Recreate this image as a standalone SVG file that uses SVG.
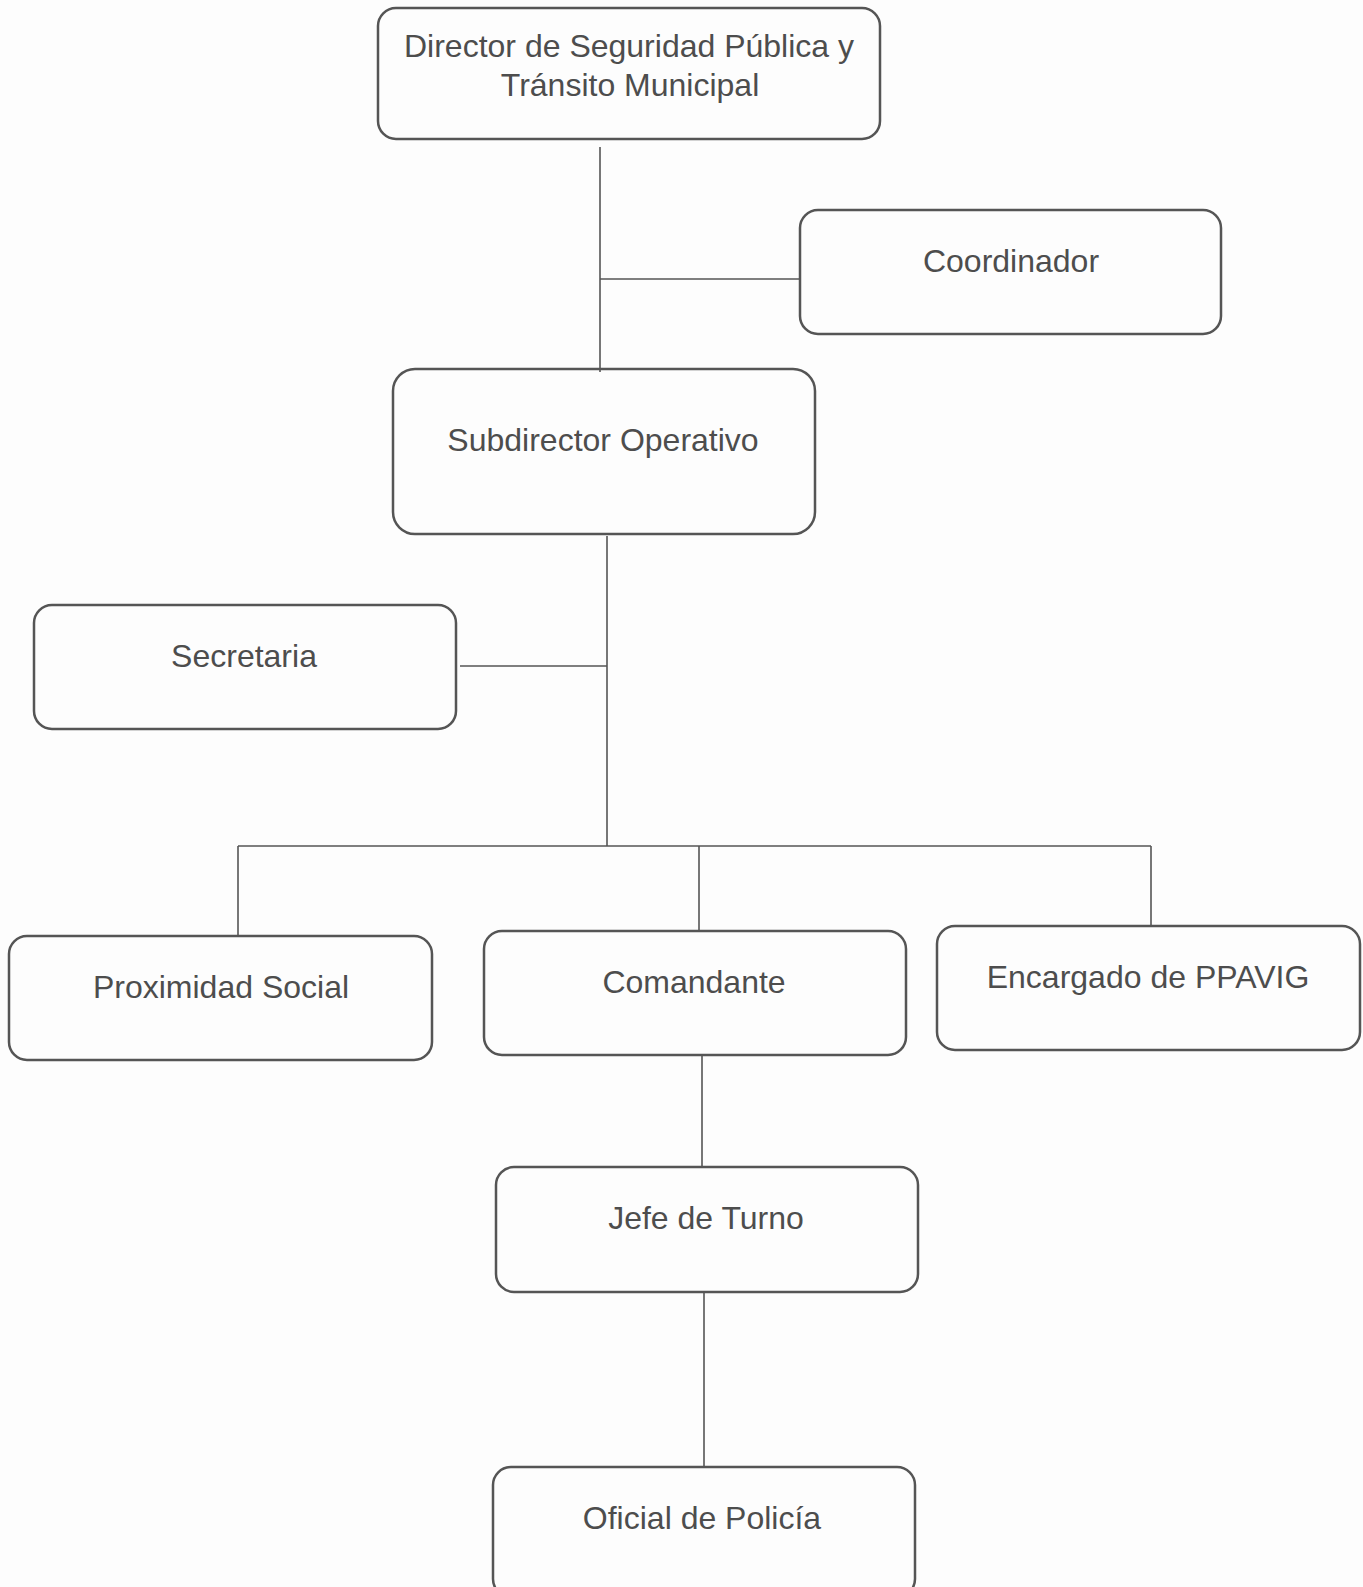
<svg xmlns="http://www.w3.org/2000/svg" width="1363" height="1587" viewBox="0 0 1363 1587">
<style>
.box{fill:none;stroke:#555;stroke-width:2.5}
.lbl{font-family:"Liberation Sans",Arial,sans-serif;font-size:32px;fill:#4d4d4d;text-anchor:middle}
.con{stroke:#555;stroke-width:1.6;fill:none}
</style>
<rect width="1363" height="1587" fill="#fdfdfd"/>
<g id="connectors">
<line class="con" x1="600" y1="147" x2="600" y2="372"/>
<line class="con" x1="600" y1="279" x2="800" y2="279"/>
<line class="con" x1="607" y1="536" x2="607" y2="846"/>
<line class="con" x1="460" y1="666" x2="607" y2="666"/>
<line class="con" x1="238" y1="846" x2="1151" y2="846"/>
<line class="con" x1="238" y1="846" x2="238" y2="936"/>
<line class="con" x1="699" y1="846" x2="699" y2="931"/>
<line class="con" x1="1151" y1="846" x2="1151" y2="926"/>
<line class="con" x1="702" y1="1055" x2="702" y2="1167"/>
<line class="con" x1="704" y1="1292" x2="704" y2="1467"/>
</g>
<g id="director">
<rect class="box" x="378" y="8" width="502" height="131" rx="18"/>
<text class="lbl" x="629" y="57">Director de Seguridad Pública y</text>
<text class="lbl" x="630" y="96">Tránsito Municipal</text>
</g>
<g id="coordinador">
<rect class="box" x="800" y="210" width="421" height="124" rx="18"/>
<text class="lbl" x="1011" y="272">Coordinador</text>
</g>
<g id="subdirector">
<rect class="box" x="393" y="369" width="422" height="165" rx="22"/>
<text class="lbl" x="603" y="451">Subdirector Operativo</text>
</g>
<g id="secretaria">
<rect class="box" x="34" y="605" width="422" height="124" rx="18"/>
<text class="lbl" x="244" y="667">Secretaria</text>
</g>
<g id="proximidad">
<rect class="box" x="9" y="936" width="423" height="124" rx="18"/>
<text class="lbl" x="221" y="998">Proximidad Social</text>
</g>
<g id="comandante">
<rect class="box" x="484" y="931" width="422" height="124" rx="18"/>
<text class="lbl" x="694" y="993">Comandante</text>
</g>
<g id="ppavig">
<rect class="box" x="937" y="926" width="423" height="124" rx="18"/>
<text class="lbl" x="1148" y="988">Encargado de PPAVIG</text>
</g>
<g id="jefe">
<rect class="box" x="496" y="1167" width="422" height="125" rx="18"/>
<text class="lbl" x="706" y="1229">Jefe de Turno</text>
</g>
<g id="oficial">
<rect class="box" x="493" y="1467" width="422" height="130" rx="18"/>
<text class="lbl" x="702" y="1529">Oficial de Policía</text>
</g>
</svg>
